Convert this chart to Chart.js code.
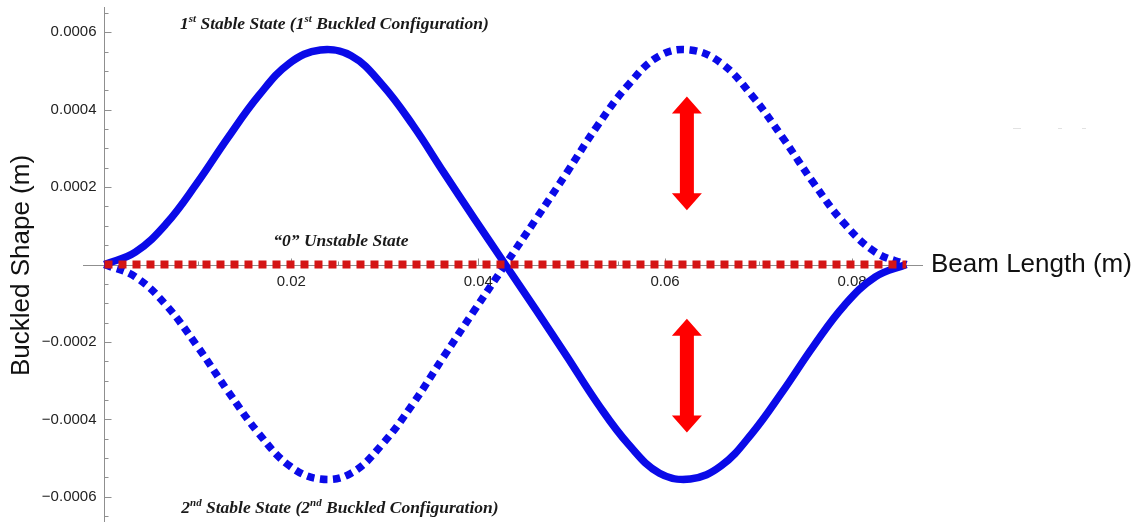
<!DOCTYPE html>
<html>
<head>
  <title>Buckled Beam Shapes</title>
  <style>
    body { margin: 0; background: #fff; }
    #wrap { width: 1147px; height: 522px; }
  </style>
</head>
<body>
  <div id="wrap"><canvas id="beamChart" width="1147" height="522"></canvas></div>

  <script src="https://cdn.jsdelivr.net/npm/chart.js"></script>
  <script>
    // position along the beam (m)
    const beamX = [0, 0.0033, 0.0066, 0.0099, 0.0132, 0.0165, 0.0198, 0.0231, 0.0264,
                   0.0297, 0.0330, 0.0363, 0.0396, 0.0429, 0.0462, 0.0495, 0.0528, 0.0561,
                   0.0594, 0.0627, 0.0660, 0.0693, 0.0726, 0.0759, 0.0792, 0.0825, 0.0858];

    // 1st buckled configuration (m)
    const firstStable = [0, 0.32e-4, 1.05e-4, 2.10e-4, 3.27e-4, 4.36e-4, 5.20e-4, 5.54e-4, 5.39e-4,
                         4.65e-4, 3.60e-4, 2.38e-4, 1.18e-4, 0, -1.18e-4, -2.38e-4, -3.60e-4, -4.65e-4,
                         -5.39e-4, -5.54e-4, -5.20e-4, -4.36e-4, -3.27e-4, -2.10e-4, -1.05e-4, -0.32e-4, 0];

    // 2nd buckled configuration (m)
    const secondStable = [0, -0.32e-4, -1.05e-4, -2.10e-4, -3.27e-4, -4.36e-4, -5.20e-4, -5.54e-4, -5.39e-4,
                          -4.65e-4, -3.60e-4, -2.38e-4, -1.18e-4, 0, 1.18e-4, 2.38e-4, 3.60e-4, 4.65e-4,
                          5.39e-4, 5.54e-4, 5.20e-4, 4.36e-4, 3.27e-4, 2.10e-4, 1.05e-4, 0.32e-4, 0];

    // straight, unstable state
    const unstableFlat = [0, 0, 0, 0, 0, 0, 0, 0, 0, 0, 0, 0, 0, 0,
                          0, 0, 0, 0, 0, 0, 0, 0, 0, 0, 0, 0, 0];

    const xTicks = [0.02, 0.04, 0.06, 0.08];
    const xTickLabels = ['0.02', '0.04', '0.06', '0.08'];
    const yTicks = [0.0006, 0.0004, 0.0002, -0.0002, -0.0004, -0.0006];
    const yTickLabels = ['0.0006', '0.0004', '0.0002', '\u22120.0002', '\u22120.0004', '\u22120.0006'];

    const toPoints = ys => beamX.map((x, i) => ({ x: x, y: ys[i] }));

    // bold italic serif text with superscript pieces ('^st')
    function drawRich(ctx, parts, cx, cy, size) {
      const main = `italic bold ${size}px "Liberation Serif", "Times New Roman", serif`;
      const sup = `italic bold ${Math.round(size * 0.6)}px "Liberation Serif", "Times New Roman", serif`;
      const items = parts.map(p => {
        const isSup = p.startsWith('^');
        const t = isSup ? p.slice(1) : p;
        ctx.font = isSup ? sup : main;
        return { t, isSup, w: ctx.measureText(t).width };
      });
      const total = items.reduce((s, it) => s + it.w, 0);
      let xx = cx - total / 2;
      ctx.textAlign = 'left';
      ctx.textBaseline = 'middle';
      items.forEach(it => {
        ctx.font = it.isSup ? sup : main;
        ctx.fillText(it.t, xx, it.isSup ? cy - size * 0.32 : cy);
        xx += it.w;
      });
    }

    function drawArrow(ctx, cx, yTop, yBot) {
      const head = 17, headHalf = 15, shaftHalf = 7;
      ctx.beginPath();
      ctx.moveTo(cx, yTop);
      ctx.lineTo(cx + headHalf, yTop + head);
      ctx.lineTo(cx + shaftHalf, yTop + head);
      ctx.lineTo(cx + shaftHalf, yBot - head);
      ctx.lineTo(cx + headHalf, yBot - head);
      ctx.lineTo(cx, yBot);
      ctx.lineTo(cx - headHalf, yBot - head);
      ctx.lineTo(cx - shaftHalf, yBot - head);
      ctx.lineTo(cx - shaftHalf, yTop + head);
      ctx.lineTo(cx - headHalf, yTop + head);
      ctx.closePath();
      ctx.fill();
    }

    // axes through the origin, ticks pointing inward
    const originAxes = {
      id: 'originAxes',
      beforeDatasetsDraw(chart) {
        const { ctx, chartArea: a, scales: { x, y } } = chart;
        const x0 = Math.round(x.getPixelForValue(0)) + 0.5;
        const y0 = Math.round(y.getPixelForValue(0)) + 0.5;
        ctx.save();
        ctx.strokeStyle = '#8f8f8f';
        ctx.lineWidth = 1;
        ctx.beginPath();
        ctx.moveTo(x0, a.top);
        ctx.lineTo(x0, a.bottom);
        ctx.moveTo(a.left, y0);
        ctx.lineTo(a.right, y0);

        for (let k = -13; k <= 13; k++) {
          if (k === 0) continue;
          const py = Math.round(y.getPixelForValue(k * 0.00005)) + 0.5;
          ctx.moveTo(x0, py);
          ctx.lineTo(x0 + (k % 4 === 0 ? 7 : 4), py);
        }
        for (let k = 1; k <= 17; k++) {
          const px = Math.round(x.getPixelForValue(k * 0.005)) + 0.5;
          ctx.moveTo(px, y0);
          ctx.lineTo(px, y0 - (k % 4 === 0 ? 7 : 4));
        }
        ctx.stroke();

        ctx.fillStyle = '#222';
        ctx.font = '15px "Liberation Sans", Arial, sans-serif';
        ctx.textAlign = 'right';
        ctx.textBaseline = 'middle';
        yTicks.forEach((v, i) => ctx.fillText(yTickLabels[i], x0 - 8, y.getPixelForValue(v)));
        ctx.textAlign = 'center';
        ctx.textBaseline = 'top';
        xTicks.forEach((v, i) => ctx.fillText(xTickLabels[i], x.getPixelForValue(v), y0 + 9));

        // axis titles
        ctx.fillStyle = '#111';
        ctx.font = '26px "Liberation Sans", Arial, sans-serif';
        ctx.textAlign = 'left';
        ctx.textBaseline = 'middle';
        ctx.fillText('Beam Length (m)', a.right + 8, y0 - 1);
        ctx.save();
        ctx.translate(22, y0);
        ctx.rotate(-Math.PI / 2);
        ctx.textAlign = 'center';
        ctx.fillText('Buckled Shape (m)', 0, 0);
        ctx.restore();

        // faint marks on the right
        ctx.strokeStyle = '#e2e2e2';
        ctx.beginPath();
        [[1013, 1021], [1058, 1062], [1082, 1086]].forEach(s => {
          ctx.moveTo(s[0], 128.5);
          ctx.lineTo(s[1], 128.5);
        });
        ctx.stroke();
        ctx.restore();
      },
      afterDatasetsDraw(chart) {
        const { ctx, scales: { x, y } } = chart;
        ctx.save();
        ctx.fillStyle = '#1a1a1a';
        drawRich(ctx, ['1', '^st', ' Stable State (1', '^st', ' Buckled Configuration)'],
          x.getPixelForValue(0.0246), y.getPixelForValue(0.000619), 17.5);
        drawRich(ctx, ['\u201c0\u201d Unstable State'],
          x.getPixelForValue(0.0253), y.getPixelForValue(0.0000594), 17.5);
        drawRich(ctx, ['2', '^nd', ' Stable State (2', '^nd', ' Buckled Configuration)'],
          x.getPixelForValue(0.0252), y.getPixelForValue(-0.000630), 17.5);

        ctx.fillStyle = '#ff0000';
        const ax = x.getPixelForValue(0.06233);
        drawArrow(ctx, ax, y.getPixelForValue(0.000434), y.getPixelForValue(0.000140));
        drawArrow(ctx, ax, y.getPixelForValue(-0.000140), y.getPixelForValue(-0.000434));
        ctx.restore();
      }
    };

    new Chart(document.getElementById('beamChart'), {
      type: 'scatter',
      data: {
        datasets: [
          {
            label: 'Unstable State',
            data: toPoints(unstableFlat),
            showLine: true,
            borderColor: '#d41515',
            borderWidth: 8,
            borderDash: [8, 6],
            borderCapStyle: 'butt',
            pointRadius: 0,
            tension: 0,
            order: 0
          },
          {
            label: '1st Stable State',
            data: toPoints(firstStable),
            showLine: true,
            borderColor: '#0a0ae8',
            borderWidth: 7.5,
            pointRadius: 0,
            tension: 0.4,
            order: 1
          },
          {
            label: '2nd Stable State',
            data: toPoints(secondStable),
            showLine: true,
            borderColor: '#0a0ae8',
            borderWidth: 7.5,
            borderDash: [7.5, 5.5],
            borderCapStyle: 'butt',
            pointRadius: 0,
            tension: 0.4,
            order: 2
          }
        ]
      },
      options: {
        responsive: false,
        animation: false,
        layout: { padding: { left: 83, right: 224, top: 7, bottom: 0 } },
        plugins: {
          legend: { display: false },
          tooltip: { enabled: false }
        },
        scales: {
          x: { type: 'linear', min: -0.0023, max: 0.0876, display: false },
          y: { type: 'linear', min: -0.000665, max: 0.000665, display: false }
        }
      },
      plugins: [originAxes]
    });
  </script>
</body>
</html>
